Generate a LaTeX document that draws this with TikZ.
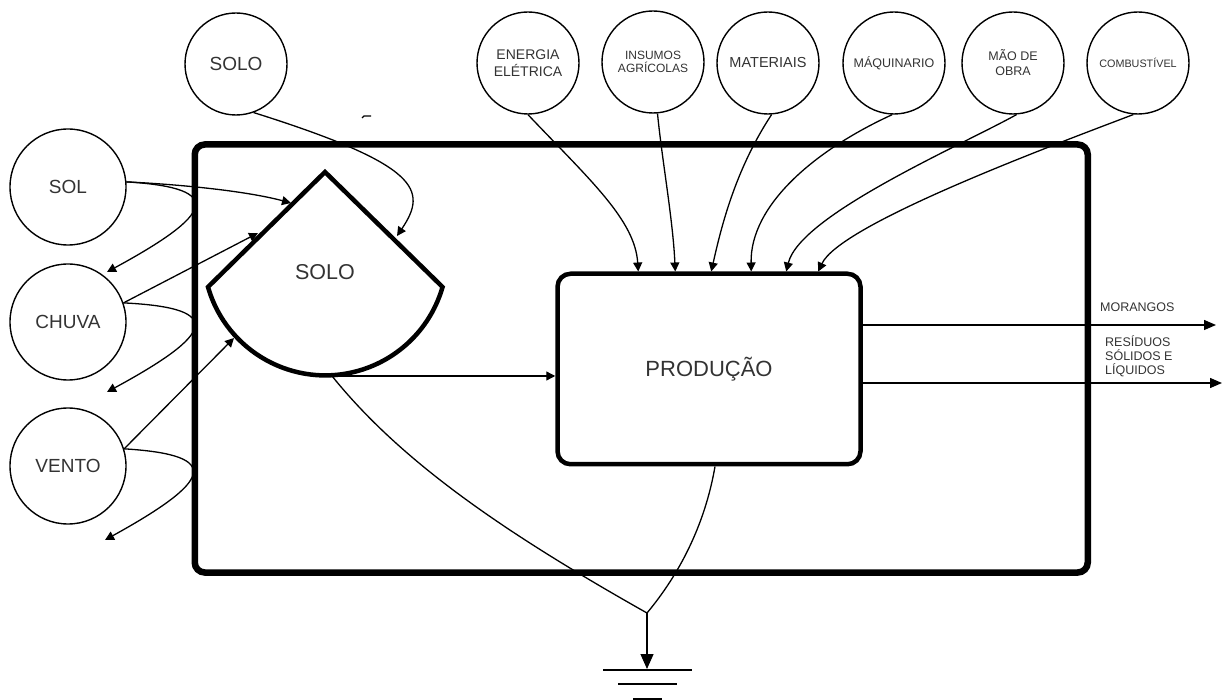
\documentclass[tikz,border=0pt]{standalone}
\usepackage{fontspec}
\setmainfont{Liberation Sans}
\usepackage{tikz}
\usetikzlibrary{arrows.meta,calc,positioning}
\tikzset{>={Triangle[length=9pt,width=9pt]}}
\tikzset{
  fonte/.style={draw, circle, line width=1.4pt, minimum size=116pt, inner sep=0pt,
    text=black!80, font=\fontsize{19}{21}\selectfont},
  insumo/.style={draw, circle, line width=1.4pt, minimum size=102pt, inner sep=0pt,
    align=center, text=black!80, font=\fontsize{14}{16.5}\selectfont},
  fluxo/.style={->, line width=1.3pt},
  rotulo/.style={inner sep=0pt, text=black!80, font=\fontsize{12.5}{14}\selectfont},
}

\begin{document}
\begin{tikzpicture}[x=1pt,y=-1pt]
          \useasboundingbox (0,0) rectangle (1224,700);

          \node[fonte] at (68,187) (sol) {SOL};
          \node[fonte] at (68,322) (chuva) {CHUVA};
          \node[fonte] at (68,466) (vento) {VENTO};

          \node[insumo, font=\fontsize{19}{21}\selectfont] at (236,64) (solofora) {SOLO};
          \node[insumo] at (528,63) (energia) {ENERGIA\\ELÉTRICA};
          \node[insumo, font=\fontsize{12}{13.5}\selectfont] at (653,62) (insumos) {INSUMOS\\AGRÍCOLAS};
          \node[insumo, font=\fontsize{14.5}{16}\selectfont] at (768,63) (materiais) {MATERIAIS};
          \node[insumo, font=\fontsize{12.5}{14}\selectfont] at (894,63) (maquinario) {MÁQUINARIO};
          \node[insumo, font=\fontsize{12.5}{15}\selectfont] at (1013,63) (maodeobra) {MÃO DE\\OBRA};
          \node[insumo, font=\fontsize{10.8}{12}\selectfont] at (1138,63) (combustivel) {COMBUSTÍVEL};

          \coordinate (p1) at (107,272);
          \coordinate (p2) at (107,392);
          \coordinate (p3) at (105,540);
          \draw[fluxo] (sol.5) .. controls (228,188) and (212,215) .. (p1);
          \draw[fluxo] (chuva.19) .. controls (228,308) and (212,335) .. (p2);
          \draw[fluxo] (vento.17) .. controls (226,455) and (210,482) .. (p3);

          \node[draw, line width=6.5pt, rounded corners=10pt, inner sep=0pt,
            minimum width=893pt, minimum height=428pt] at (641.25,358.5) (sistema) {};

          % solo (setor)
          \coordinate (topo) at (325,172);
          \draw[line width=4.5pt, line join=miter] (topo) -- (208,287)
            arc[start angle=164, end angle=16, radius=122] -- cycle;
          \node[text=black!80, font=\fontsize{21.5}{24}\selectfont] at (325,272) (solo) {SOLO};
          \coordinate (fundo) at (332,376);
          \coordinate (s1) at (291,203);
          \coordinate (s2) at (258,233);
          \coordinate (s3) at (234,338);
          \coordinate (s4) at (397,236);

          \node[draw, line width=4.5pt, rounded corners=13pt, minimum width=303pt,
            minimum height=190.5pt, text=black!80, font=\fontsize{22}{24}\selectfont]
            at (709,369) (producao) {PRODUÇÃO};

          \draw[fluxo] (sol.5) .. controls (190,185) and (250,192) .. (s1);
          \draw[fluxo] (chuva.19) -- (s2);
          \draw[fluxo] (vento.17) -- (s3);
          \draw[fluxo] (solofora.290) .. controls (420,165) and (428,190) .. (s4);

          \draw[fluxo] (energia.south) .. controls (590,180) and (635,220) .. ([xshift=83pt]producao.north west);
          \draw[fluxo] (insumos.275) .. controls (662,160) and (673,220) .. ([xshift=120pt]producao.north west);
          \draw[fluxo] (materiais.274) .. controls (735,170) and (721,228) .. ([xshift=156pt]producao.north west);
          \draw[fluxo] (maquinario.268) .. controls (815,150) and (750,205) .. ([xshift=196pt]producao.north west);
          \draw[fluxo] (maodeobra.274) .. controls (960,146) and (800,215) .. ([xshift=231pt]producao.north west);
          \draw[fluxo] (combustivel.265) .. controls (1040,150) and (840,225) .. ([xshift=263pt]producao.north west);

          \draw[fluxo] (fundo) -- ([yshift=-7pt]producao.west);

          \coordinate (saida1) at (1216,325);
          \coordinate (saida2) at (1222,383);
          \draw[->, >={Triangle[length=12pt,width=10pt]}, line width=1.3pt] ([yshift=44pt]producao.east) -- (saida1);
          \draw[->, >={Triangle[length=12pt,width=10pt]}, line width=1.3pt] ([yshift=-14pt]producao.east) -- (saida2);
          \node[rotulo, anchor=base west] at (1100,312) (morangos) {MORANGOS};
          \node[rotulo, anchor=west, align=left] at (1105,356) (residuos) {RESÍDUOS\\SÓLIDOS E\\LÍQUIDOS};

          \coordinate (juncao) at (647,613);
          \coordinate (terra) at (647,669);
          \draw[line width=1.3pt] (fundo) .. controls (402,463) and (507,534) .. (juncao);
          \draw[line width=1.3pt] ([xshift=6pt]producao.south) .. controls (707,513) and (687,565) .. (juncao);
          \draw[->, >={Triangle[length=15pt,width=13pt]}, line width=1.3pt] (juncao) -- (terra);
          \draw[line width=1.5pt] (603,670) -- (692,670);
          \draw[line width=1.5pt] (618,684) -- (677,684);
          \draw[line width=3pt] (633,699) -- (662,699);

          \draw[line width=1.2pt] (362,118) -- (364,116) -- (371,116);
\end{tikzpicture}
\end{document}
